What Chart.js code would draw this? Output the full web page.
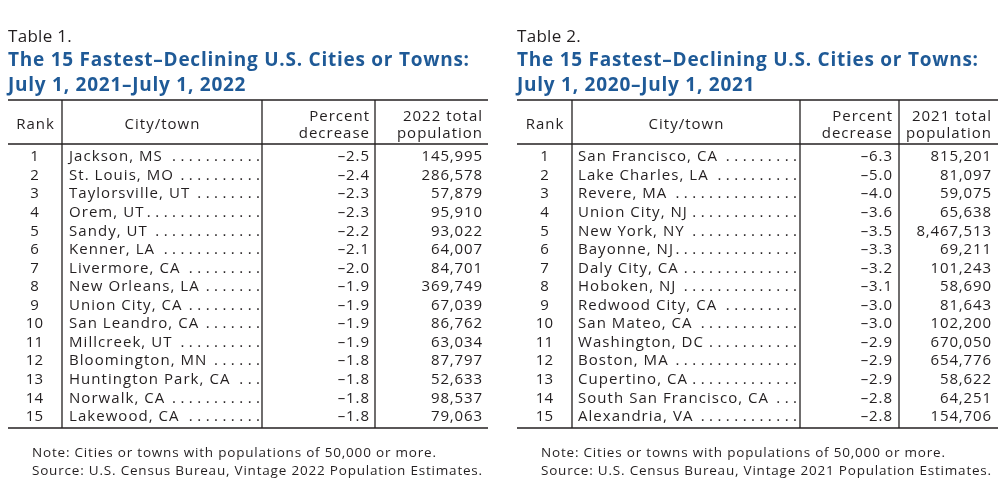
<!DOCTYPE html>
<html>
<head>
<meta charset="utf-8">
<title>Fastest-Declining U.S. Cities or Towns</title>
<script src="https://cdn.jsdelivr.net/npm/chart.js@4.4.1/dist/chart.umd.min.js"></script>
<style>
  body { margin: 0; background: #fff; }
  #wrap { position: relative; width: 1000px; height: 501px; }
  .box { position: absolute; top: 0; width: 500px; height: 501px; }
</style>
</head>
<body>
<div id="wrap">
  <div class="box" style="left:0"><canvas id="table1"></canvas></div>
  <div class="box" style="left:500px"><canvas id="table2"></canvas></div>
</div>
<script>
// Data

const ranks = [1, 2, 3, 4, 5, 6, 7, 8, 9, 10, 11, 12, 13, 14, 15];

const cities2022 = ['Jackson, MS', 'St. Louis, MO', 'Taylorsville, UT', 'Orem, UT', 'Sandy, UT',
  'Kenner, LA', 'Livermore, CA', 'New Orleans, LA', 'Union City, CA', 'San Leandro, CA',
  'Millcreek, UT', 'Bloomington, MN', 'Huntington Park, CA', 'Norwalk, CA', 'Lakewood, CA'];
const decrease2022 = [-2.5, -2.4, -2.3, -2.3, -2.2, -2.1, -2.0, -1.9, -1.9, -1.9, -1.9, -1.8, -1.8, -1.8, -1.8];
const population2022 = [145995, 286578, 57879, 95910, 93022, 64007, 84701, 369749, 67039, 86762,
  63034, 87797, 52633, 98537, 79063];

const cities2021 = ['San Francisco, CA', 'Lake Charles, LA', 'Revere, MA', 'Union City, NJ', 'New York, NY',
  'Bayonne, NJ', 'Daly City, CA', 'Hoboken, NJ', 'Redwood City, CA', 'San Mateo, CA',
  'Washington, DC', 'Boston, MA', 'Cupertino, CA', 'South San Francisco, CA', 'Alexandria, VA'];
const decrease2021 = [-6.3, -5.0, -4.0, -3.6, -3.5, -3.3, -3.2, -3.1, -3.0, -3.0, -2.9, -2.9, -2.9, -2.8, -2.8];
const population2021 = [815201, 81097, 59075, 65638, 8467513, 69211, 101243, 58690, 81643, 102200,
  670050, 654776, 58622, 64251, 154706];

// Styles

const FONT = '"Open Sans", sans-serif';
const INK = '#231f20';
const BLUE = '#1f5a97';

function fmtPct(v)
{
  return v.toFixed(1).replace('-', '\u2013');
}

function fmtPop(v)
{
  return v.toLocaleString('en-US');
}

// Text with letter spacing; the trailing space is taken back for right / centre alignment
function spaced(ctx, s, x, y, sp)
{
  ctx.letterSpacing = sp + 'px';
  let dx = 0;
  if (ctx.textAlign === 'right') dx = sp;
  else if (ctx.textAlign === 'center') dx = sp / 2;
  ctx.fillText(s, x + dx, y);
  const w = ctx.measureText(s).width - sp;
  ctx.letterSpacing = '0px';
  return w;
}

// Draws the frame, headings, notes and the row texts at the points' positions

const tablePlugin =
{
  id: 'tableText',
  afterDraw(chart, args, o)
  {
    const ctx = chart.ctx;
    const area = chart.chartArea;
    const xs = chart.scales.x;
    const ys = chart.scales.y;
    const left = ys.left;
    const top = area.top - 44;

    ctx.save();
    ctx.textBaseline = 'alphabetic';
    ctx.textAlign = 'left';

    // Titles
    ctx.fillStyle = INK;
    ctx.font = '17px ' + FONT;
    spaced(ctx, o.label, left, 42, 0.3);
    ctx.fillStyle = BLUE;
    ctx.font = 'bold 19px ' + FONT;
    o.title.forEach((t, i) => spaced(ctx, t, left, 66 + i * 25, 0.75));

    // Rules
    ctx.strokeStyle = INK;
    ctx.lineWidth = 1.6;
    [top, area.top, area.bottom].forEach(yy =>
    {
      ctx.beginPath();
      ctx.moveTo(left, yy);
      ctx.lineTo(area.right, yy);
      ctx.stroke();
    });
    ctx.lineWidth = 1.3;
    [area.left, xs.getPixelForValue(o.cols[0]), xs.getPixelForValue(o.cols[1])].forEach(xx =>
    {
      ctx.beginPath();
      ctx.moveTo(xx, top);
      ctx.lineTo(xx, area.bottom);
      ctx.stroke();
    });

    // Column headings
    ctx.fillStyle = INK;
    ctx.font = '15px ' + FONT;
    ctx.textAlign = 'center';
    spaced(ctx, 'Rank', (left + area.left) / 2, top + 29, 1);
    spaced(ctx, 'City/town', (area.left + xs.getPixelForValue(o.cols[0])) / 2, top + 29, 1);
    ctx.textAlign = 'right';
    const pctX = xs.getPixelForValue(o.pctX);
    const popX = xs.getPixelForValue(o.popX);
    spaced(ctx, 'Percent', pctX, top + 21, 1);
    spaced(ctx, 'decrease', pctX, top + 38, 1);
    spaced(ctx, o.year + ' total', popX, top + 21, 1);
    spaced(ctx, 'population', popX, top + 38, 1);

    // Rows
    ctx.textBaseline = 'middle';
    const dotEnd = xs.getPixelForValue(o.dotEnd);
    chart.data.datasets.forEach((ds, di) =>
    {
      const meta = chart.getDatasetMeta(di);
      meta.data.forEach((pt, i) =>
      {
        ctx.textAlign = ds.align;
        const w = spaced(ctx, ds.text[i], pt.x, pt.y, ds.spacing);
        if (ds.leader)
        {
          const end = pt.x + w;
          ctx.textAlign = 'center';
          for (let d = dotEnd; d > end + 4; d -= 8.4)
          {
            ctx.fillText('.', d, pt.y);
          }
        }
      });
    });

    // Notes
    ctx.textBaseline = 'alphabetic';
    ctx.textAlign = 'left';
    ctx.font = '13.5px ' + FONT;
    o.notes.forEach((t, i) => spaced(ctx, t, left + 24, area.bottom + 29 + i * 18, 0.8));

    ctx.restore();
  }
};

function makeTable(id, cfg)
{
  const datasets =
  [
    { label: 'City/town', text: cfg.cities, align: 'left', leader: true, spacing: 1.05,
      data: ranks.map(r => ({ x: cfg.layout.cityX, y: r })) },
    { label: 'Percent decrease', text: cfg.decrease.map(fmtPct), align: 'right', spacing: 0.9,
      data: ranks.map(r => ({ x: cfg.layout.pctX, y: r })) },
    { label: cfg.year + ' total population', text: cfg.population.map(fmtPop), align: 'right', spacing: 0.85,
      data: ranks.map(r => ({ x: cfg.layout.popX, y: r })) }
  ];

  return new Chart(document.getElementById(id),
  {
    type: 'scatter',
    data: { datasets: datasets },
    options:
    {
      responsive: true,
      maintainAspectRatio: false,
      animation: false,
      events: [],
      elements: { point: { radius: 0 } },
      layout: { padding: cfg.layout.padding },
      scales:
      {
        x: { type: 'linear', display: false, min: 0, max: 426 },
        y:
        {
          type: 'linear',
          reverse: true,
          min: 0.3,
          max: 15.6,
          afterBuildTicks: s => { s.ticks = ranks.map(v => ({ value: v })); },
          afterFit: s => { s.width = cfg.layout.rankWidth; },
          grid: { display: false, drawTicks: false },
          border: { display: false },
          ticks:
          {
            autoSkip: false,
            color: INK,
            font: { family: FONT, size: 15 },
            crossAlign: 'center',
            padding: 19,
            callback: v => v
          }
        }
      },
      plugins:
      {
        legend: { display: false },
        tooltip: { enabled: false },
        tableText:
        {
          label: cfg.label,
          title: cfg.title,
          year: cfg.year,
          notes: cfg.notes,
          cols: cfg.layout.cols,
          pctX: cfg.layout.pctX,
          popX: cfg.layout.popX,
          dotEnd: cfg.layout.dotEnd
        }
      }
    },
    plugins: [tablePlugin]
  });
}

makeTable('table1',
{
  label: 'Table 1.',
  title: ['The 15 Fastest\u2013Declining U.S. Cities or Towns:', 'July 1, 2021\u2013July 1, 2022'],
  year: '2022',
  cities: cities2022,
  decrease: decrease2022,
  population: population2022,
  notes: ['Note: Cities or towns with populations of 50,000 or more.',
    'Source: U.S. Census Bureau, Vintage 2022 Population Estimates.'],
  layout: { padding: { left: 8, right: 12, top: 144, bottom: 73 }, rankWidth: 54,
    cols: [200, 313], cityX: 7, pctX: 307, popX: 420, dotEnd: 196 }
});

makeTable('table2',
{
  label: 'Table 2.',
  title: ['The 15 Fastest\u2013Declining U.S. Cities or Towns:', 'July 1, 2020\u2013July 1, 2021'],
  year: '2021',
  cities: cities2021,
  decrease: decrease2021,
  population: population2021,
  notes: ['Note: Cities or towns with populations of 50,000 or more.',
    'Source: U.S. Census Bureau, Vintage 2021 Population Estimates.'],
  layout: { padding: { left: 17, right: 2, top: 144, bottom: 73 }, rankWidth: 55,
    cols: [228, 327], cityX: 6, pctX: 320, popX: 419, dotEnd: 223 }
});
</script>
</body>
</html>
